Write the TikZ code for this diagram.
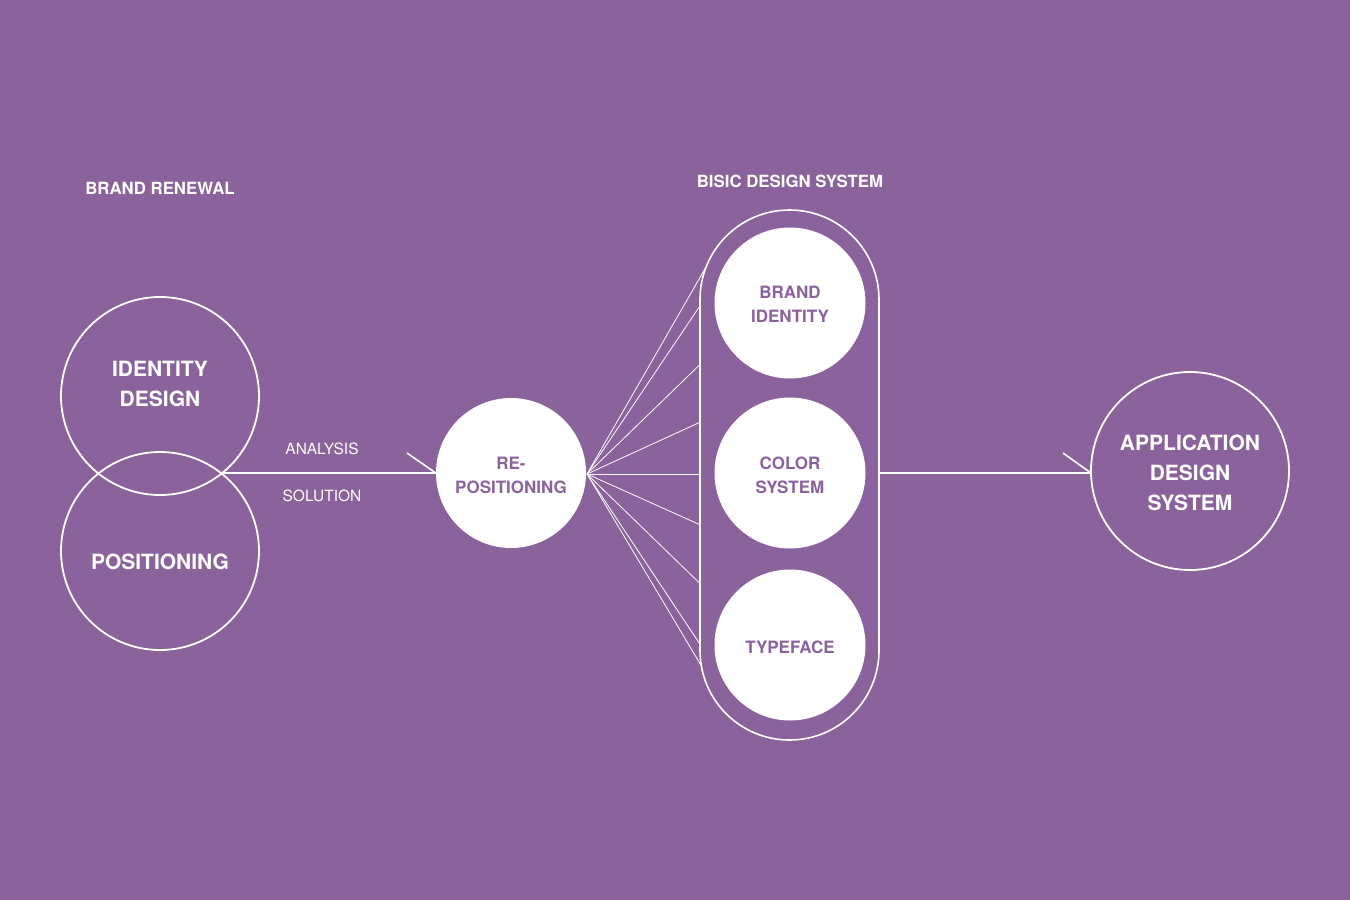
\documentclass[tikz,border=0pt]{standalone}
\usepackage{fontspec}
\setmainfont{TeX Gyre Heros}
\definecolor{bgpurple}{RGB}{138,98,156}
\begin{document}
\begin{tikzpicture}[x=1pt,y=-1pt,
  bigcirc/.style={circle,draw=white,line width=1.8pt,minimum size=198pt,inner sep=0pt},
  bigtext/.style={text=white,font=\bfseries\fontsize{21}{30}\selectfont,align=center},
  smallcirc/.style={circle,fill=white,draw=none,minimum size=151pt,inner sep=0pt},
  smalltext/.style={text=bgpurple,font=\bfseries\fontsize{17}{24}\selectfont,align=center},
  toplabel/.style={text=white,font=\fontsize{16.8}{19}\selectfont\bfseries},
  sidelabel/.style={text=white,font=\fontsize{15.5}{17}\selectfont},
  mainline/.style={draw=white,line width=1.6pt},
  fanline/.style={draw=white,line width=0.8pt}
]
\fill[bgpurple] (0,0) rectangle (1350,900);
\useasboundingbox (0,0) rectangle (1350,900);

\node[toplabel] (brl) at (160,188) {BRAND RENEWAL};
\node[toplabel] (bds) at (790,181) {BISIC DESIGN SYSTEM};

\node[bigcirc] (id) at (160,396) {};
\node[bigtext] (idl) at (160,384) {IDENTITY\\DESIGN};
\node[bigcirc] (pos) at (160,551) {};
\node[bigtext] (posl) at (160,562) {POSITIONING};

\node[smallcirc,minimum size=150pt] (rp) at (511,473) {};
\node[smalltext] (rpl) at (511,475) {RE-\\POSITIONING};

\draw[mainline,rounded corners=89.5pt] (700,210) rectangle (879,740);
\coordinate (capL) at (700,473);
\coordinate (capR) at (879,473);

\node[smallcirc] (bi) at (790,303) {};
\node[smalltext] (bil) at (790,304) {BRAND\\IDENTITY};
\node[smallcirc] (cs) at (790,473) {};
\node[smalltext] (csl) at (790,475) {COLOR\\SYSTEM};
\node[smallcirc] (tf) at (790,645) {};
\node[smalltext] (tfl) at (790,647) {TYPEFACE};

\node[bigcirc] (app) at (1190,471) {};
\node[bigtext] (appl) at (1190,473) {APPLICATION\\DESIGN\\SYSTEM};

% left connector
\coordinate (lx) at (221.6,473);
\draw[mainline] (lx) -- (rp.west |- lx);
\coordinate (b1) at (407,453);
\draw[mainline] (b1) -- (rp.west |- lx);
\node[sidelabel] (an) at (322,449) {ANALYSIS};
\node[sidelabel] (so) at (322,496) {SOLUTION};

% right connector
\coordinate (ar) at (1091,473);
\draw[mainline] (capR) -- (ar);
\coordinate (b2) at (1063,453);
\draw[mainline] (b2) -- (ar);

% fan
\coordinate (fo) at (587,474);
\coordinate (f1) at (706,267);
\coordinate (f2) at (700.5,305);
\coordinate (f3) at (700.5,364);
\coordinate (f4) at (700.5,422);
\coordinate (f5) at (700.5,474);
\coordinate (f6) at (700.5,525);
\coordinate (f7) at (700.5,584);
\coordinate (f8) at (700.5,645);
\coordinate (f9) at (702,667);
\foreach \i in {1,...,9} \draw[fanline] (fo) -- (f\i);
\end{tikzpicture}
\end{document}
